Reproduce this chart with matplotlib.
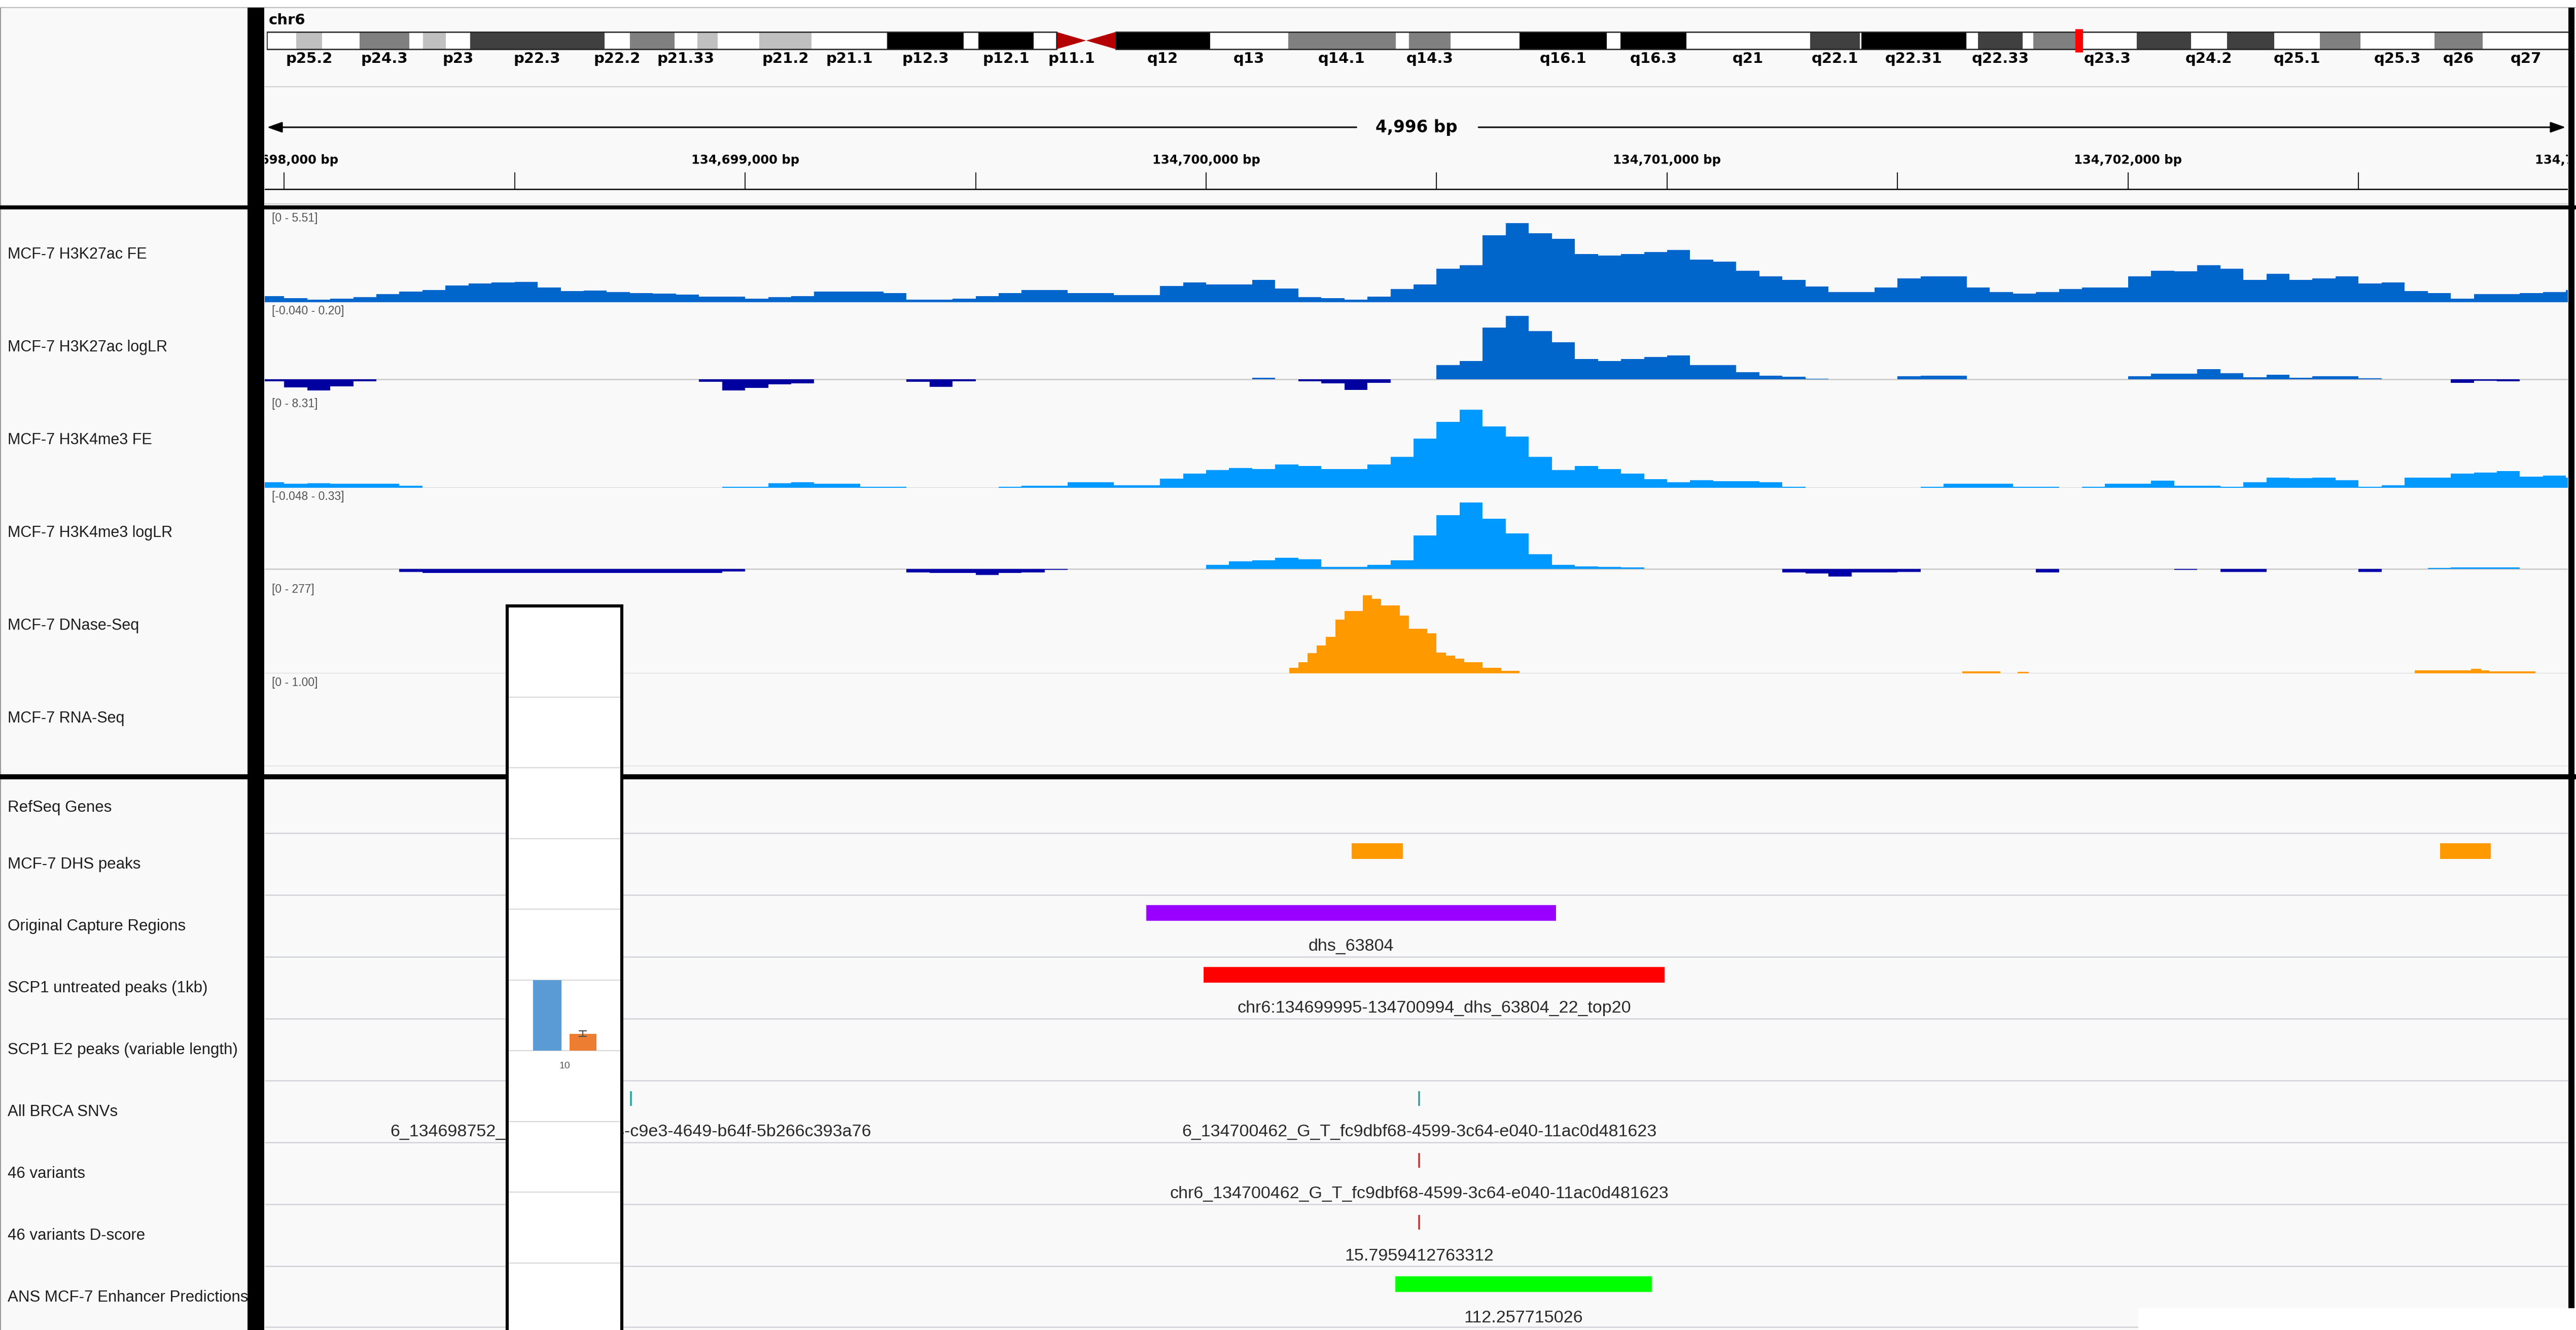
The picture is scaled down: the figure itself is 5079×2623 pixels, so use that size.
import matplotlib.pyplot as plt
import matplotlib.patches as patches
import numpy as np

plt.rcParams['font.family'] = ['Liberation Sans', 'DejaVu Sans']

W, H = 5079, 2623
DPI = 100

# ---------------- data ----------------
chrom = 'chr6'
chrom_len = 171.1            # Mb
view_start = 134697958
view_end = 134702954
cursor_mb = 134.70

# cytobands (Mb)
band_start = [0, 2.2, 4.1, 6.9, 10.6, 11.6, 13.3, 15.1, 25.1, 27.0,
              30.3, 32.0, 33.5, 36.6, 40.5, 46.1, 51.8, 52.9, 57.0, 58.7,
              60.9, 63.1, 70.1, 75.9, 83.9, 84.9, 88.0, 93.1, 99.6, 100.6,
              105.5, 114.7, 118.4, 118.5, 126.3, 127.2, 130.5, 131.3, 134.6, 139.0,
              143.0, 145.7, 149.2, 152.6, 155.6, 161.1, 164.7]
band_stain = ['gneg', 'gpos25', 'gneg', 'gpos50', 'gneg', 'gpos25', 'gneg', 'gpos75', 'gneg', 'gpos50',
              'gneg', 'gpos25', 'gneg', 'gpos25', 'gneg', 'gpos100', 'gneg', 'gpos100', 'gneg', 'acen',
              'acen', 'gpos100', 'gneg', 'gpos50', 'gneg', 'gpos50', 'gneg', 'gpos100', 'gneg', 'gpos100',
              'gneg', 'gpos75', 'gneg', 'gpos100', 'gneg', 'gpos75', 'gneg', 'gpos50', 'gneg', 'gpos75',
              'gneg', 'gpos75', 'gneg', 'gpos50', 'gneg', 'gpos50', 'gneg']
band_name = ['', 'p25.2', '', 'p24.3', '', '', 'p23', 'p22.3', 'p22.2', '',
             'p21.33', '', '', 'p21.2', 'p21.1', 'p12.3', '', 'p12.1', '', 'p11.1',
             '', 'q12', 'q13', 'q14.1', '', 'q14.3', '', 'q16.1', '', 'q16.3',
             'q21', 'q22.1', '', 'q22.31', '', 'q22.33', '', '', 'q23.3', '',
             'q24.2', '', 'q25.1', '', 'q25.3', 'q26', 'q27']

# signal tracks, 50 bp bins
bin_start = 134697950
bin_size = 50
h3k27ac_fe = [0.37, 0.25, 0.15, 0.20, 0.29, 0.48, 0.64, 0.73, 0.99, 1.12,
              1.17, 1.19, 0.88, 0.66, 0.68, 0.60, 0.55, 0.51, 0.46, 0.33,
              0.33, 0.22, 0.29, 0.37, 0.64, 0.64, 0.62, 0.55, 0.15, 0.15,
              0.22, 0.37, 0.55, 0.73, 0.73, 0.55, 0.55, 0.42, 0.42, 0.95,
              1.17, 1.04, 1.06, 1.32, 0.82, 0.29, 0.24, 0.15, 0.33, 0.77,
              1.04, 1.98, 2.20, 3.97, 4.70, 4.08, 3.75, 2.87, 2.76, 2.87,
              2.98, 3.09, 2.53, 2.42, 1.87, 1.54, 1.32, 0.94, 0.60, 0.60,
              0.88, 1.43, 1.54, 1.54, 0.88, 0.60, 0.51, 0.60, 0.77, 0.88,
              0.88, 1.54, 1.87, 1.83, 2.20, 1.98, 1.32, 1.70, 1.32, 1.43,
              1.54, 1.10, 1.17, 0.66, 0.55, 0.22, 0.48, 0.48, 0.55, 0.60,
              0.73]
h3k27ac_lr = [-0.005, -0.020, -0.028, -0.018, -0.004, 0, 0, 0, 0, 0,
              0, 0, 0, 0, 0, 0, 0, 0, 0, -0.006,
              -0.028, -0.022, -0.012, -0.010, 0, 0, 0, 0, -0.006, -0.019,
              -0.004, 0, 0, 0, 0, 0, 0, 0, 0, 0,
              0, 0, 0, 0.005, 0, -0.004, -0.010, -0.027, -0.008, 0,
              0, 0.038, 0.048, 0.134, 0.165, 0.125, 0.096, 0.053, 0.048, 0.053,
              0.058, 0.062, 0.038, 0.038, 0.019, 0.010, 0.007, 0.002, 0, 0,
              0, 0.008, 0.010, 0.010, 0, 0, 0, 0, 0, 0,
              0, 0.008, 0.015, 0.015, 0.027, 0.017, 0.006, 0.012, 0.004, 0.008,
              0.008, 0.003, 0, 0, 0, -0.008, -0.003, -0.004, 0, 0,
              0]
h3k4me3_fe = [0.50, 0.37, 0.43, 0.37, 0.37, 0.37, 0.20, 0, 0, 0,
              0, 0, 0, 0, 0, 0, 0, 0, 0, 0,
              0.10, 0.10, 0.43, 0.50, 0.37, 0.37, 0.10, 0.10, 0, 0,
              0, 0, 0.10, 0.17, 0.20, 0.50, 0.50, 0.23, 0.23, 0.83,
              1.26, 1.60, 1.76, 1.70, 2.09, 1.93, 1.66, 1.66, 2.09, 2.76,
              4.42, 5.90, 7.00, 5.48, 4.59, 2.76, 1.60, 1.93, 1.70, 1.26,
              0.76, 0.50, 0.70, 0.60, 0.60, 0.50, 0.10, 0, 0, 0,
              0, 0, 0.10, 0.37, 0.37, 0.37, 0.10, 0.10, 0, 0.10,
              0.37, 0.37, 0.63, 0.20, 0.17, 0.10, 0.50, 0.93, 0.86, 0.93,
              0.70, 0.10, 0.23, 0.93, 0.93, 1.26, 1.36, 1.50, 1.00, 1.10,
              0.93]
h3k4me3_lr = [0, 0, 0, 0, 0, 0, -0.013, -0.018, -0.018, -0.018,
              -0.018, -0.018, -0.018, -0.018, -0.018, -0.018, -0.018, -0.018, -0.018, -0.018,
              -0.010, 0, 0, 0, 0, 0, 0, 0, -0.015, -0.018,
              -0.018, -0.025, -0.018, -0.015, -0.004, 0, 0, 0, 0, 0,
              0, 0.015, 0.030, 0.035, 0.045, 0.038, 0.008, 0.008, 0.015, 0.035,
              0.136, 0.219, 0.270, 0.204, 0.144, 0.060, 0.015, 0.010, 0.008, 0.005,
              0, 0, 0, 0, 0, 0, -0.014, -0.020, -0.032, -0.015,
              -0.015, -0.012, 0, 0, 0, 0, 0, -0.015, 0, 0,
              0, 0, 0, -0.005, 0, -0.012, -0.012, 0, 0, 0,
              0, -0.012, 0, 0, 0.003, 0.006, 0.006, 0.006, 0, 0,
              0]

# DNase-seq, 20 bp bins over the peak plus a few small segments
dnase_start = 134700180
dnase_bin = 20
dnase_peak = [17, 34, 61, 83, 109, 161, 186, 186, 233, 223,
              203, 203, 172, 133, 133, 120, 62, 53, 44, 34,
              34, 17, 17, 7, 7]
dnase_extra_start = [134701640, 134701760, 134702622, 134702744, 134702766, 134702783]
dnase_extra_end = [134701723, 134701785, 134702744, 134702766, 134702783, 134702884]
dnase_extra_val = [6, 5, 9, 13, 9, 6]

signal_names = ['MCF-7 H3K27ac FE', 'MCF-7 H3K27ac logLR', 'MCF-7 H3K4me3 FE',
                'MCF-7 H3K4me3 logLR', 'MCF-7 DNase-Seq', 'MCF-7 RNA-Seq']
signal_ranges = [(0, 5.51), (-0.040, 0.20), (0, 8.31), (-0.048, 0.33), (0, 277), (0, 1.00)]
range_labels = ['[0 - 5.51]', '[-0.040 - 0.20]', '[0 - 8.31]', '[-0.048 - 0.33]', '[0 - 277]', '[0 - 1.00]']

feature_names = ['RefSeq Genes', 'MCF-7 DHS peaks', 'Original Capture Regions',
                 'SCP1 untreated peaks (1kb)', 'SCP1 E2 peaks (variable length)', 'All BRCA SNVs',
                 '46 variants', '46 variants D-score', 'ANS MCF-7 Enhancer Predictions']
dhs_start = [134700316, 134702677]
dhs_end = [134700427, 134702787]
capture_start = [134699870]
capture_end = [134700759]
capture_name = ['dhs_63804']
scp1_start = [134699995]
scp1_end = [134700994]
scp1_name = ['chr6:134699995-134700994_dhs_63804_22_top20']
snv_pos = [134698752, 134700462]
snv_name = ['6_134698752_C_T_0b7e21a4-c9e3-4649-b64f-5b266c393a76',
            '6_134700462_G_T_fc9dbf68-4599-3c64-e040-11ac0d481623']
var46_pos = [134700462]
var46_name = ['chr6_134700462_G_T_fc9dbf68-4599-3c64-e040-11ac0d481623']
dscore_pos = [134700462]
dscore_val = [15.7959412763312]
enh_start = [134700410]
enh_end = [134700967]
enh_score = [112.257715026]

# small pasted bar chart
inset_cats = ['10']
inset_blue = [1.0]
inset_orange = [0.24]
inset_orange_err = [0.04]

# ---------------- layout helpers ----------------
fig = plt.figure(figsize=(W / DPI, H / DPI), dpi=DPI)
fig.patch.set_facecolor('white')

DX0, DX1 = 522, 5063
PANEL = '#f9f9f9'


def px_axes(x0, y0, x1, y1, z=1):
    ax = fig.add_axes([x0 / W, 1 - y1 / H, (x1 - x0) / W, (y1 - y0) / H])
    ax.set_zorder(z)
    ax.set_facecolor('none')
    return ax


def pixel_space(ax, x0, y0, x1, y1):
    ax.set_xlim(x0, x1)
    ax.set_ylim(y1, y0)
    ax.axis('off')


# background
bg = px_axes(0, 0, W, H, z=0)
pixel_space(bg, 0, 0, W, H)
bg.add_patch(patches.Rectangle((0, 15), W, H - 15, color=PANEL, lw=0))
bg.hlines(15, 0, W, color='#bdbdbd', lw=1.5)
bg.vlines(1, 15, H, color='#9a9a9a', lw=1.5)
bg.hlines([171, 402], DX0, DX1, color='#cfcfd4', lw=1.5)
bg.text(530, 40, chrom, fontsize=21, fontweight='bold', family='DejaVu Sans',
        ha='left', va='center')

# ---------------- ideogram ----------------
stain_color = {'gneg': 'white', 'gpos25': '#c0c0c0', 'gpos50': '#808080',
               'gpos75': '#404040', 'gpos100': 'black', 'acen': '#b40000'}
band_end = band_start[1:] + [chrom_len]
ideo = px_axes(526, 50, 5065, 135)
ideo.set_xlim(0, chrom_len)
ideo.set_ylim(135, 50)
ideo.axis('off')
IY0, IY1 = 63, 97
for s, e, st, nm in zip(band_start, band_end, band_stain, band_name):
    if st == 'acen':
        continue
    ideo.bar(s, IY1 - IY0, width=e - s, bottom=IY0, align='edge',
             color=stain_color[st], edgecolor='none')
acen = [(s, e) for s, e, st in zip(band_start, band_end, band_stain) if st == 'acen']
(ps, pe), (qs, qe) = acen
mid = (IY0 + IY1) / 2
ideo.fill([ps, ps, pe], [IY0, IY1, mid], color=stain_color['acen'], lw=0)
ideo.fill([qs, qe, qe], [mid, IY0, IY1], color=stain_color['acen'], lw=0)
ideo.add_patch(patches.Rectangle((0, IY0), ps, IY1 - IY0, fill=False, ec='#222222', lw=1.8))
ideo.add_patch(patches.Rectangle((qe, IY0), chrom_len - qe, IY1 - IY0, fill=False, ec='#222222', lw=1.8))
for s, e, nm in zip(band_start, band_end, band_name):
    if nm:
        ideo.text((s + e) / 2, 116, nm, ha='center', va='center', fontsize=21,
                  fontweight='bold', family='DejaVu Sans')
ideo.vlines(cursor_mb, 57, 103, color='red', lw=11)

# ---------------- ruler ----------------
hdr = px_axes(DX0, 15, DX1, 405)
hdr.set_xlim(view_start, view_end)
hdr.set_ylim(405, 15)
hdr.axis('off')
tick_pos = np.arange(134698000, view_end, 500)
hdr.vlines(tick_pos, 340, 373, color='black', lw=1.3)
hdr.axhline(373, color='black', lw=1.8)
for b in np.arange(134698000, 134703001, 1000):
    hdr.text(b, 316, f'{b:,} bp', ha='center', va='center', fontsize=17.5,
             fontweight='bold', family='DejaVu Sans', clip_on=True)
ytr = hdr.get_yaxis_transform()
arrow = dict(arrowstyle='-|>,head_length=0.45,head_width=0.16', color='black',
             lw=2.2, mutation_scale=40, shrinkA=0, shrinkB=0)
hdr.annotate('', xy=(0.001, 251), xytext=(0.474, 251), xycoords=ytr, textcoords=ytr, arrowprops=arrow)
hdr.annotate('', xy=(0.999, 251), xytext=(0.527, 251), xycoords=ytr, textcoords=ytr, arrowprops=arrow)
hdr.text(0.5, 251, f'{view_end - view_start:,} bp', transform=ytr, ha='center', va='center',
         fontsize=23.5, fontweight='bold', family='DejaVu Sans')

# ---------------- signal tracks ----------------
edges = bin_start + bin_size * np.arange(len(h3k27ac_fe) + 1)
TRACK_TOP, TRACK_H = 413, 183
names_ax = px_axes(0, 413, 488, H)
pixel_space(names_ax, 0, 413, 488, H)

signal_style = [
    (h3k27ac_fe, '#0066cc', None),
    (h3k27ac_lr, '#0066cc', '#0000a0'),
    (h3k4me3_fe, '#0099ff', None),
    (h3k4me3_lr, '#0099ff', '#0000a8'),
    (None, '#ff9900', None),
    (None, None, None),
]
for i, (name, rng, lab, (vals, pos_c, neg_c)) in enumerate(
        zip(signal_names, signal_ranges, range_labels, signal_style)):
    top = TRACK_TOP + TRACK_H * i
    ax = px_axes(DX0, top, DX1, top + TRACK_H)
    ax.set_xlim(view_start, view_end)
    ax.set_ylim(*rng)
    ax.axis('off')
    ax.axhline(0, color='#c8c8c8', lw=1.8, zorder=0)
    if vals is not None:
        v = np.array(vals, dtype=float)
        ax.stairs(np.clip(v, 0, None), edges, baseline=0, fill=True, color=pos_c, lw=0)
        if neg_c is not None:
            ax.stairs(np.clip(v, None, 0), edges, baseline=0, fill=True, color=neg_c, lw=0)
    elif pos_c is not None:
        pk_edges = dnase_start + dnase_bin * np.arange(len(dnase_peak) + 1)
        ax.stairs(dnase_peak, pk_edges, baseline=0, fill=True, color=pos_c, lw=0)
        ax.bar(dnase_extra_start, dnase_extra_val,
               width=np.array(dnase_extra_end) - np.array(dnase_extra_start),
               align='edge', color=pos_c, lw=0)
    ax.text(0.003, 1 - 18 / TRACK_H, lab, transform=ax.transAxes, ha='left', va='center',
            fontsize=16.5, color='#555555')
    names_ax.text(15, top + 89, name, ha='left', va='center', fontsize=22,
                  color='#1e1e1e', clip_on=True)

# ---------------- feature tracks ----------------
FT0, FH = 1521, 122
ftops = [FT0 + FH * j for j in range(len(feature_names))]
bg.hlines(ftops[1:] + [FT0 + FH * len(feature_names) - 2], DX0, DX1, color='#d2d2da', lw=1.8)
for j, name in enumerate(feature_names):
    yc = ftops[j] + 62 if j else ftops[j] + 72
    names_ax.text(15, yc, name, ha='left', va='center', fontsize=22.5,
                  color='#1e1e1e', clip_on=True)

feat = px_axes(DX0, 1537, DX1, H)
feat.set_xlim(view_start, view_end)
feat.set_ylim(H, 1537)
feat.axis('off')
LBL = dict(ha='center', va='center', fontsize=24.5, color='#2a2a2a', clip_on=True)


def blocks(j, starts, ends, color, labels=None):
    t = ftops[j]
    s = np.array(starts)
    e = np.array(ends)
    feat.bar(s, 31, width=e - s, bottom=t + 20, align='edge', color=color, lw=0)
    if labels:
        for a, b, txt in zip(s, e, labels):
            feat.text((a + b) / 2, t + 102, txt, **LBL)


def ticks(j, pos, color, labels):
    t = ftops[j]
    feat.vlines(pos, t + 21, t + 50, color=color, lw=2.6)
    for p, txt in zip(pos, labels):
        feat.text(p, t + 102, txt, **LBL)


blocks(1, dhs_start, dhs_end, '#ff9900')
blocks(2, capture_start, capture_end, '#9900ff', capture_name)
blocks(3, scp1_start, scp1_end, '#ff0000', scp1_name)
ticks(5, snv_pos, '#26a6a6', snv_name)
ticks(6, var46_pos, '#ff2020', var46_name)
ticks(7, dscore_pos, '#ff2020', [repr(v) for v in dscore_val])
blocks(8, enh_start, enh_end, '#00ff00', [repr(v) for v in enh_score])

# ---------------- frame lines ----------------
fg = px_axes(0, 0, W, H, z=3)
pixel_space(fg, 0, 0, W, H)
fg.add_patch(patches.Rectangle((0, 405), W, 8, color='black', lw=0))
fg.add_patch(patches.Rectangle((0, 1527), W, 10, color='black', lw=0))
fg.add_patch(patches.Rectangle((488, 15), 33, H - 15, color='black', lw=0))
fg.add_patch(patches.Rectangle((5064, 15), 12, 2565, color='black', lw=0))
fg.add_patch(patches.Rectangle((4216, 2580), W - 4216, H - 2580, color='white', lw=0))

# ---------------- pasted bar chart ----------------
ins = px_axes(1000, 1195, 1226, H, z=6)
ins.set_facecolor('white')
xc = np.arange(len(inset_cats))
ins.bar(xc - 0.15, inset_blue, width=0.245, color='#5b9bd5', zorder=2)
ins.bar(xc + 0.16, inset_orange, width=0.235, color='#ed7d31', zorder=2,
        yerr=inset_orange_err, error_kw=dict(ecolor='#505050', elinewidth=1.5, capsize=6, capthick=1.5))
ins.set_xlim(-0.5, 0.5)
ins.set_ylim(-3.95, 6.29)
ins.set_yticks(np.arange(-3, 6))
ins.yaxis.grid(True, color='#d9d9d9', lw=1.6)
ins.set_axisbelow(True)
ins.tick_params(left=False, labelleft=False, bottom=False, labelbottom=False)
for c, lab in zip(xc, inset_cats):
    ins.text(c, -0.22, lab, ha='center', va='center', fontsize=14, color='#595959')
for side in ['top', 'left', 'right']:
    ins.spines[side].set_linewidth(4.4)
    ins.spines[side].set_color('black')
ins.spines['bottom'].set_visible(False)

fig.savefig('out.png', dpi=DPI, facecolor='white')
plt.close(fig)
